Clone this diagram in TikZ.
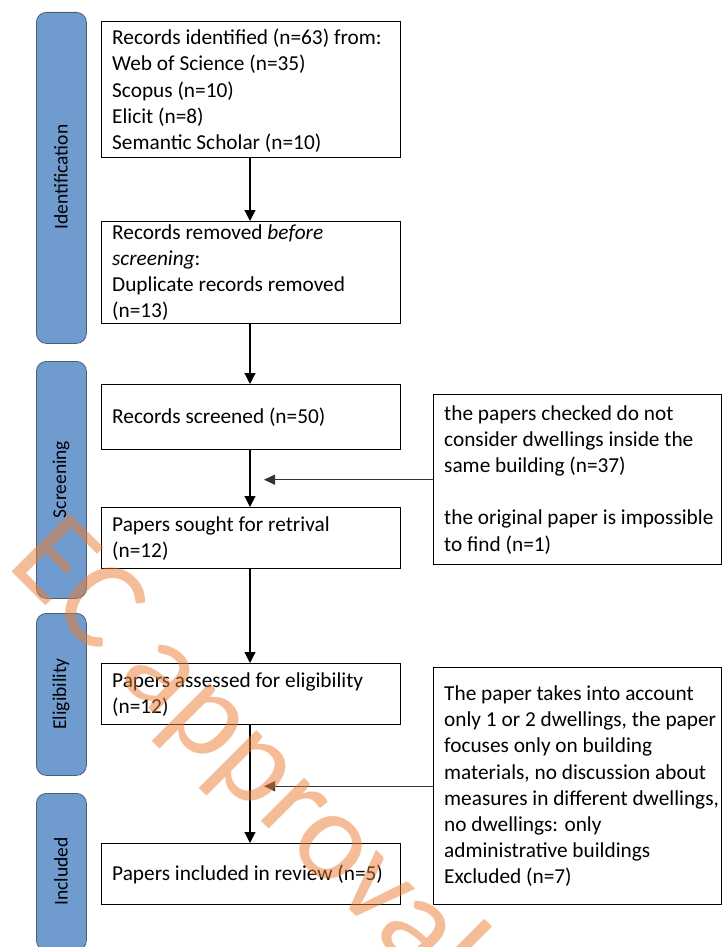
\documentclass[tikz,border=0pt]{standalone}
\usepackage{fontspec}
\setmainfont{Carlito}
\usetikzlibrary{arrows.meta}
\definecolor{phasefill}{HTML}{709BCE}
\definecolor{phaseline}{HTML}{4A5E78}
\definecolor{wmorange}{HTML}{ED7D31}
\tikzset{
  box/.style={draw=black, line width=1.4pt, fill=white, rectangle, inner sep=0pt, anchor=north west},
  boxtext/.style={anchor=west, align=left, inner sep=0pt, font=\fontsize{21.3}{26.2}\selectfont},
  phasebar/.style={draw=phaseline, line width=0.8pt, fill=phasefill, rounded corners=10pt,
    rectangle, anchor=north west, minimum width=50pt, inner sep=0pt},
  phaselabel/.style={rotate=90, font=\fontsize{19.5}{22}\selectfont, inner sep=0pt},
  flow/.style={line width=1.2pt, -{Triangle[width=11pt,length=11pt]}},
  sideflow/.style={line width=1.1pt, draw=black!80, -{Triangle[width=10pt,length=11pt]}},
}
\begin{document}
\begin{tikzpicture}[x=1pt,y=-1pt]
\useasboundingbox (0,0) rectangle (723,947);
\clip (0,0) rectangle (723,947);
\fill[white] (0,0) rectangle (723,947);

% phase bars
\node[phasebar, minimum height=331pt] (p1) at (36,12) {};
\node[phasebar, minimum height=237pt] (p2) at (36,361) {};
\node[phasebar, minimum height=162pt] (p3) at (36,613) {};
\node[phasebar, minimum height=157pt] (p4) at (36,793) {};
\node[phaselabel] (l1) at (61,177) {Identification};
\node[phaselabel] (l2) at (61,479.5) {Screening};
\node[phaselabel] (l3) at (61,694) {Eligibility};
\node[phaselabel] (l4) at (61,871.5) {Included};

% main boxes
\node[box, minimum width=299pt, minimum height=136pt] (b1) at (101,21) {};
\node[box, minimum width=299pt, minimum height=102pt] (b2) at (101,221) {};
\node[box, minimum width=299pt, minimum height=65pt] (b3) at (101,384) {};
\node[box, minimum width=299pt, minimum height=61pt] (b4) at (101,507) {};
\node[box, minimum width=299pt, minimum height=61pt] (b5) at (101,663) {};
\node[box, minimum width=299pt, minimum height=61pt] (b6) at (101,843) {};
\node[boxtext] (x1) at ([xshift=11pt,yshift=-1pt]b1.west)
  {Records identified (n=63) from:\\Web of Science (n=35)\\Scopus (n=10)\\Elicit (n=8)\\Semantic Scholar (n=10)};
\node[boxtext] (x2) at ([xshift=11pt]b2.west)
  {Records removed \emph{before}\\\emph{screening}:\\Duplicate records removed\\(n=13)};
\node[boxtext] (x3) at ([xshift=11pt]b3.west) {Records screened (n=50)};
\node[boxtext] (x4) at ([xshift=11pt]b4.west) {Papers sought for retrival\\(n=12)};
\node[boxtext] (x5) at ([xshift=11pt]b5.west) {Papers assessed for eligibility\\(n=12)};
\node[boxtext] (x6) at ([xshift=11pt]b6.west) {Papers included in review (n=5)};

% side boxes
\node[box, minimum width=288pt, minimum height=170pt] (r1) at (433,394) {};
\node[box, minimum width=288pt, minimum height=237pt] (r2) at (433,667) {};
\node[boxtext] (y1) at ([xshift=11pt]r1.west)
  {the papers checked do not\\consider dwellings inside the\\same building (n=37)\\[26.2pt]the original paper is impossible\\to find (n=1)};
\node[boxtext] (y2) at ([xshift=11pt]r2.west)
  {The paper takes into account\\only 1 or 2 dwellings, the paper\\focuses only on building\\materials, no discussion about\\measures in different dwellings,\\no dwellings: only\\administrative buildings\\Excluded (n=7)};

% connectors
\draw[flow] (b1.south -| 250,0) -- (b2.north -| 250,0);
\draw[flow] (b2.south -| 250,0) -- (b3.north -| 250,0);
\draw[flow] (b3.south -| 250,0) -- (b4.north -| 250,0);
\draw[flow] (b4.south -| 250,0) -- (b5.north -| 250,0);
\draw[flow] (b5.south -| 250,0) -- (b6.north -| 250,0);
\coordinate (t1) at (r1.west -| 264,0);
\coordinate (t2) at (r2.west -| 264,0);
\draw[sideflow] (r1.west) -- (t1);
\draw[sideflow] (r2.west) -- (t2);

% watermark
\node[anchor=base west, rotate=-45, inner sep=0pt, text=wmorange, text opacity=0.5,
  font=\fontsize{128}{128}\selectfont] (wm) at (5,565) {EC approval};
\end{tikzpicture}
\end{document}
